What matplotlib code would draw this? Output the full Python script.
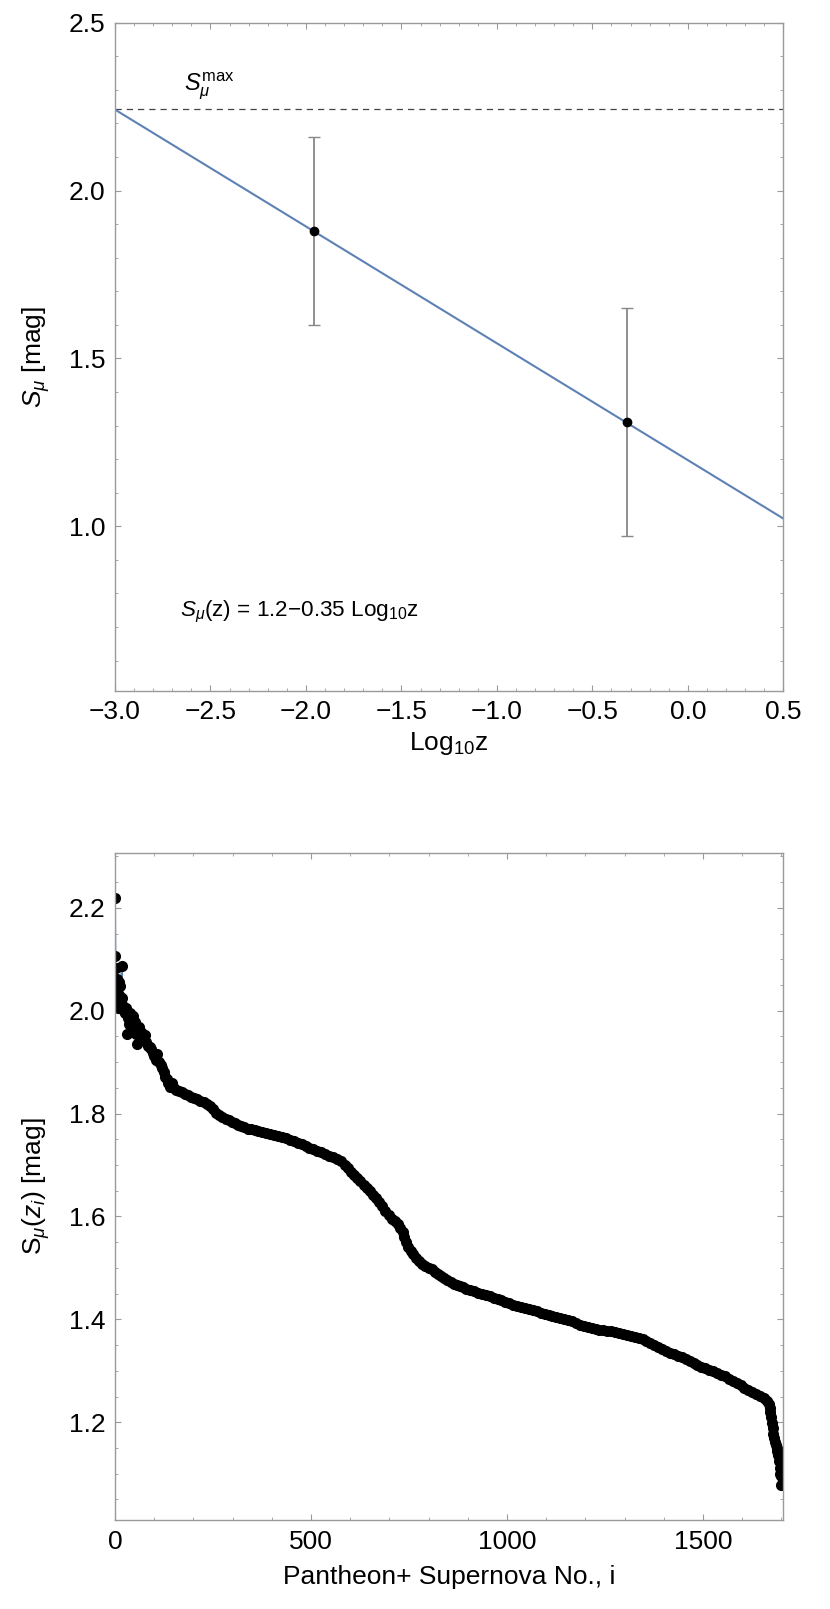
import numpy as np
import matplotlib
matplotlib.use("Agg")
from matplotlib import pyplot as plt
from matplotlib.ticker import MultipleLocator, FuncFormatter

# top panel: binned S_mu vs log10 z
logz_pts = [-1.96, -0.32]
smu_pts = [1.88, 1.31]
smu_err = [0.28, 0.34]
fit_a, fit_b = 1.197, -0.348      # S_mu(z) = a + b log10 z
fit_x = [-3.0, 0.5]
smu_max = 2.242

# bottom panel: S_mu(z_i) for the Pantheon+ sample
sn_i = [0, 1, 2, 3, 4, 5, 6, 7, 9, 11, 13, 15, 17, 18, 20, 22, 25, 28, 30, 32,
        35, 38, 41, 44, 47, 50, 53, 56, 59, 62, 65, 68, 72, 76, 80, 84, 88, 92, 96, 100,
        104, 108, 112, 116, 120, 124, 128, 132, 136, 140, 145, 150, 156, 162, 170, 178, 186, 194, 202, 210,
        218, 226, 234, 242, 250, 258, 266, 274, 282, 290, 298, 306, 314, 322, 330, 338, 346, 356, 366, 376,
        386, 396, 406, 416, 426, 436, 446, 456, 466, 476, 486, 496, 506, 516, 526, 536, 546, 556, 566, 576,
        586, 594, 602, 610, 618, 626, 634, 642, 650, 658, 666, 674, 682, 690, 698, 706, 714, 722, 728, 734,
        738, 742, 748, 754, 760, 768, 776, 784, 792, 800, 808, 816, 824, 832, 840, 848, 856, 864, 872, 880,
        888, 896, 906, 916, 926, 936, 946, 956, 966, 976, 986, 996, 1006, 1016, 1026, 1036, 1046, 1056, 1066, 1076,
        1086, 1096, 1106, 1116, 1126, 1136, 1146, 1156, 1166, 1176, 1186, 1196, 1206, 1216, 1226, 1236, 1246, 1256, 1266, 1276,
        1286, 1296, 1306, 1316, 1326, 1336, 1346, 1356, 1366, 1376, 1386, 1396, 1406, 1416, 1426, 1436, 1446, 1456, 1466, 1476,
        1486, 1496, 1506, 1516, 1526, 1536, 1546, 1556, 1566, 1576, 1586, 1596, 1606, 1616, 1626, 1636, 1646, 1656, 1664, 1668,
        1670, 1672, 1674, 1676, 1678, 1680, 1682, 1684, 1686, 1688, 1690, 1692, 1694, 1696, 1697, 1698, 1700]
sn_smu = [2.219, 2.106, 2.012, 2.083, 2.047, 2.061, 2.040, 2.005, 2.030, 2.055, 2.048, 2.020, 2.086, 2.025, 2.010, 2.000, 1.995, 2.006, 1.954, 1.985,
          1.975, 1.995, 1.982, 1.965, 1.990, 1.978, 1.955, 1.935, 1.962, 1.968, 1.958, 1.950, 1.945, 1.952, 1.940, 1.932, 1.930, 1.925, 1.918, 1.912,
          1.905, 1.915, 1.900, 1.895, 1.888, 1.880, 1.872, 1.868, 1.860, 1.852, 1.860, 1.850, 1.846, 1.843, 1.842, 1.838, 1.836, 1.833, 1.830, 1.828,
          1.825, 1.822, 1.818, 1.814, 1.808, 1.802, 1.798, 1.794, 1.790, 1.787, 1.784, 1.781, 1.778, 1.776, 1.773, 1.771, 1.770, 1.768, 1.766, 1.765,
          1.763, 1.761, 1.759, 1.757, 1.755, 1.752, 1.749, 1.746, 1.743, 1.740, 1.737, 1.734, 1.731, 1.728, 1.725, 1.721, 1.718, 1.715, 1.711, 1.707,
          1.701, 1.694, 1.686, 1.680, 1.674, 1.668, 1.661, 1.655, 1.649, 1.642, 1.636, 1.628, 1.620, 1.610, 1.602, 1.596, 1.591, 1.585, 1.578, 1.570,
          1.560, 1.550, 1.541, 1.533, 1.527, 1.519, 1.513, 1.507, 1.504, 1.500, 1.497, 1.493, 1.489, 1.485, 1.481, 1.477, 1.473, 1.469, 1.466, 1.464,
          1.462, 1.460, 1.458, 1.455, 1.452, 1.450, 1.447, 1.445, 1.442, 1.440, 1.437, 1.434, 1.431, 1.428, 1.426, 1.424, 1.422, 1.420, 1.418, 1.416,
          1.413, 1.411, 1.409, 1.407, 1.405, 1.403, 1.401, 1.398, 1.396, 1.393, 1.390, 1.388, 1.386, 1.384, 1.381, 1.380, 1.379, 1.378, 1.377, 1.375,
          1.373, 1.371, 1.370, 1.368, 1.366, 1.364, 1.362, 1.358, 1.355, 1.351, 1.347, 1.343, 1.339, 1.335, 1.332, 1.329, 1.326, 1.323, 1.320, 1.316,
          1.312, 1.308, 1.305, 1.302, 1.299, 1.296, 1.292, 1.289, 1.285, 1.281, 1.277, 1.272, 1.267, 1.263, 1.259, 1.255, 1.251, 1.247, 1.242, 1.235,
          1.228, 1.220, 1.210, 1.198, 1.188, 1.178, 1.170, 1.162, 1.156, 1.150, 1.144, 1.136, 1.125, 1.112, 1.100, 1.095, 1.078]

blue = "#5E81B5"
frame = "#9a9a9a"

plt.rcParams["font.family"] = ["Liberation Sans", "DejaVu Sans"]
plt.rcParams["mathtext.fontset"] = "custom"
plt.rcParams["mathtext.rm"] = "Liberation Sans"
plt.rcParams["mathtext.it"] = "Liberation Sans:italic"
plt.rcParams["mathtext.sf"] = "Liberation Sans"


def fmt1(v, pos):
    return ("%.1f" % v).replace("-", "\u2212")


def style(ax):
    for s in ax.spines.values():
        s.set_color(frame)
        s.set_linewidth(1.0)
    ax.tick_params(which="both", direction="in", top=True, right=True,
                   color=frame, labelsize=19, labelcolor="black")
    ax.tick_params(which="major", length=4.5, width=0.8, pad=7)
    ax.tick_params(which="minor", length=2.5, width=0.6)


fig = plt.figure(figsize=(8.3, 16.09), dpi=100)

# --- top panel
ax1 = fig.add_axes([0.1386, 0.5707, 0.8051, 0.4152])
fx = np.array(fit_x)
ax1.plot(fx, fit_a + fit_b * fx, color=blue, lw=1.5, zorder=2)
ax1.axhline(smu_max, color="#444444", lw=0.9, ls=(0, (5, 4)), zorder=1)
ax1.errorbar(logz_pts, smu_pts, yerr=smu_err, fmt="o", color="black", ms=6,
             ecolor="#888888", elinewidth=1.3, capsize=4, capthick=1.0, zorder=3)
ax1.set_xlim(-3.0, 0.5)
ax1.set_ylim(0.51, 2.5)
ax1.xaxis.set_major_locator(MultipleLocator(0.5))
ax1.xaxis.set_minor_locator(MultipleLocator(0.1))
ax1.yaxis.set_major_locator(MultipleLocator(0.5))
ax1.yaxis.set_minor_locator(MultipleLocator(0.1))
ax1.xaxis.set_major_formatter(FuncFormatter(fmt1))
ax1.yaxis.set_major_formatter(FuncFormatter(fmt1))
style(ax1)
ax1.set_xlabel(r"Log$_{10}$z", fontsize=19, labelpad=4)
ax1.set_ylabel(r"$S_{\mu}$ [mag]", fontsize=19, labelpad=12)
ax1.text(-2.64, 2.31, r"$S_{\mu}^{\mathrm{max}}$", fontsize=17, ha="left", va="center")
ax1.text(-2.66, 0.745, r"$S_{\mu}$(z) = 1.2$-$0.35 Log$_{10}$z", fontsize=16.2,
         ha="left", va="center")

# --- bottom panel
ax2 = fig.add_axes([0.1386, 0.0553, 0.8051, 0.4144])
ax2.plot(sn_i, sn_smu, color=blue, lw=1.3, marker="o", mfc="black", mec="black",
         ms=7, zorder=2)
ax2.set_xlim(0, 1705)
ax2.set_ylim(1.01, 2.306)
ax2.xaxis.set_major_locator(MultipleLocator(500))
ax2.xaxis.set_minor_locator(MultipleLocator(100))
ax2.yaxis.set_major_locator(MultipleLocator(0.2))
ax2.yaxis.set_minor_locator(MultipleLocator(0.05))
ax2.yaxis.set_major_formatter(FuncFormatter(fmt1))
style(ax2)
ax2.set_xlabel("Pantheon+ Supernova No., i", fontsize=19, labelpad=8)
ax2.set_ylabel(r"S$_{\mu}$($z_{i}$) [mag]", fontsize=19, labelpad=12)

fig.savefig("out.png", dpi=100)
